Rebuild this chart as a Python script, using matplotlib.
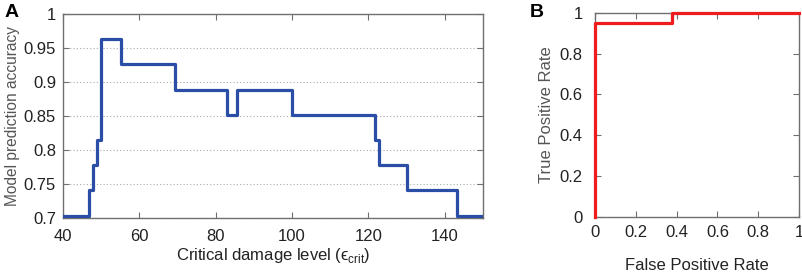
#!/usr/bin/env python3
"""Model accuracy vs critical damage level, plus ROC curve."""
import matplotlib
matplotlib.use("Agg")
import matplotlib.pyplot as plt

plt.rcParams["font.family"] = ["Liberation Sans", "DejaVu Sans"]
plt.rcParams["mathtext.fontset"] = "custom"
plt.rcParams["mathtext.rm"] = "Liberation Sans"

# panel A: step edges (critical damage level) and accuracy (n correct of 27)
crit_level = [40, 46.8, 47.9, 48.9, 49.9, 55.1, 69.4, 83.0, 85.6, 100.0,
              121.7, 122.8, 130.0, 143.2, 150]
n_correct = [19, 20, 21, 22, 26, 25, 24, 23, 24, 23, 22, 21, 20, 19, 19]
n_total = 27
accuracy = [c / n_total for c in n_correct]

# panel B: ROC curve
fpr = [0, 0, 0.375, 0.375, 1.0]
tpr = [0, 0.95, 0.95, 1.0, 1.0]

BLUE = "#2a4ea6"
RED = "#ee1c1c"
SPINE = "#707070"
TEXT = "#222222"
FS = 12


def style_axes(ax, xpad, ypad):
    for spine in ax.spines.values():
        spine.set_color(SPINE)
        spine.set_linewidth(1.0)
    ax.tick_params(direction="in", top=True, right=True, length=4,
                   color=SPINE, labelsize=FS, labelcolor=TEXT)
    ax.tick_params(axis="x", pad=xpad)
    ax.tick_params(axis="y", pad=ypad)


fig = plt.figure(figsize=(8.03, 2.75), dpi=100)

ax_a = fig.add_axes([0.0785, 0.207, 0.523, 0.742])
ax_a.step(crit_level, accuracy, where="post", color=BLUE, lw=2.3, zorder=3)
ax_a.set_xlim(40, 150)
ax_a.set_ylim(0.7, 1.0)
ax_a.set_xticks([40, 60, 80, 100, 120, 140])
ax_a.set_yticks([0.7, 0.75, 0.8, 0.85, 0.9, 0.95, 1.0])
ax_a.set_yticklabels(["0.7", "0.75", "0.8", "0.85", "0.9", "0.95", "1"])
ax_a.yaxis.grid(True, linestyle=(0, (1, 2)), color="#aaaaaa", lw=0.8)
style_axes(ax_a, xpad=8, ypad=5)
ax_a.set_xlabel("Critical damage level (\u03f5$_{\\mathrm{crit}}$)",
                fontsize=FS, color=TEXT, labelpad=1)
ax_a.set_ylabel("Model prediction accuracy", fontsize=11.2, color="#555555",
                labelpad=3)
fig.text(0.006, 0.955, "A", fontsize=14, fontweight="bold", va="center")

ax_b = fig.add_axes([0.741, 0.211, 0.254, 0.743])
ax_b.plot(fpr, tpr, color=RED, lw=2.3, zorder=3, clip_on=False)
ax_b.set_xlim(0, 1)
ax_b.set_ylim(0, 1)
ticks = [0, 0.2, 0.4, 0.6, 0.8, 1.0]
labels = ["0", "0.2", "0.4", "0.6", "0.8", "1"]
ax_b.set_xticks(ticks)
ax_b.set_xticklabels(labels)
ax_b.set_yticks(ticks)
ax_b.set_yticklabels(labels)
style_axes(ax_b, xpad=6, ypad=9)
ax_b.set_xlabel("False Positive Rate", fontsize=FS, color=TEXT, labelpad=13)
ax_b.set_ylabel("True Positive Rate", fontsize=FS, color="#555555",
                labelpad=4)
fig.text(0.660, 0.955, "B", fontsize=14, fontweight="bold", va="center")

fig.savefig("out.png", dpi=100)
